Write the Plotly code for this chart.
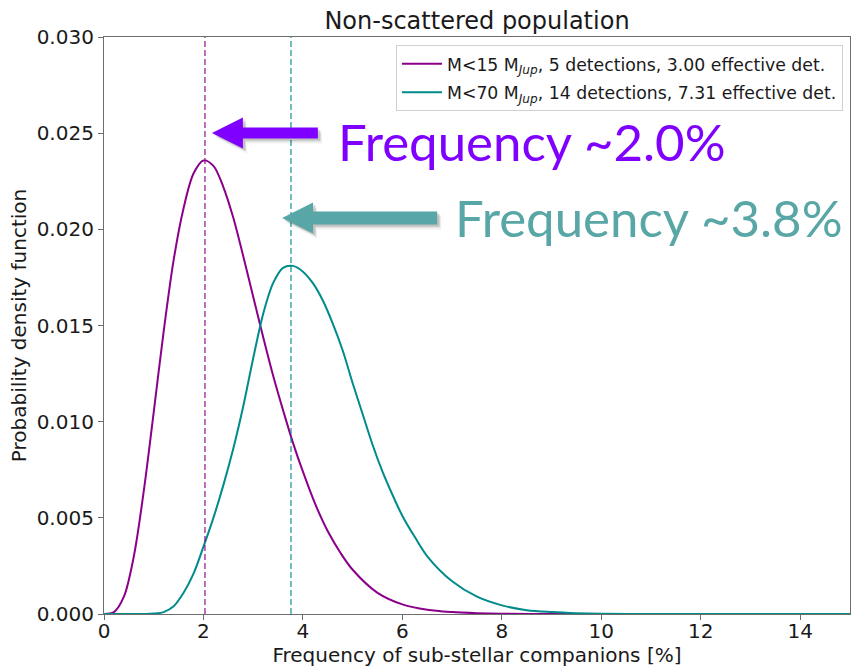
import plotly.graph_objects as go

# Axis limits and tick positions
x_range = [0, 15]
y_range = [0.0, 0.030]
x_ticks = [0, 2, 4, 6, 8, 10, 12, 14]
y_ticks = [0.000, 0.005, 0.010, 0.015, 0.020, 0.025, 0.030]

# Posterior PDF, planetary-mass companions (M < 15 MJup)
freq_low = [0, 0.2, 0.4, 0.6, 0.8, 1.0, 1.2, 1.4, 1.6, 1.8, 2.0, 2.2, 2.4, 2.6,
            2.8, 3.0, 3.2, 3.4, 3.6, 3.8, 4.0, 4.25, 4.5, 4.75, 5.0, 5.5, 6.0,
            6.5, 7.0, 7.5, 8.0, 9.0, 10.0, 12.0, 15.0]
pdf_low = [0.0, 0.0001, 0.0009, 0.0030, 0.0064, 0.0105, 0.0147, 0.0184,
           0.0211, 0.0229, 0.02358, 0.0233, 0.0222, 0.0206, 0.0186, 0.0165,
           0.0144, 0.0124, 0.0106, 0.0089, 0.0074, 0.0057, 0.0043, 0.0032,
           0.0023, 0.0011, 0.0005, 0.00022, 0.0001, 0.00004, 0.00001, 0.0,
           0.0, 0.0, 0.0]

# Posterior PDF, all sub-stellar companions (M < 70 MJup)
freq_high = [0, 0.8, 1.0, 1.2, 1.4, 1.6, 1.8, 2.0, 2.2, 2.4, 2.6, 2.8, 3.0,
             3.2, 3.4, 3.6, 3.8, 4.0, 4.2, 4.4, 4.6, 4.8, 5.0, 5.2, 5.4, 5.6,
             5.8, 6.0, 6.25, 6.5, 7.0, 7.5, 8.0, 8.5, 9.0, 9.5, 10.0, 11.0,
             12.0, 15.0]
pdf_high = [0.0, 0.0, 0.00002, 0.0001, 0.0004, 0.0011, 0.0021, 0.0035, 0.0050,
            0.0067, 0.0086, 0.0108, 0.0133, 0.0156, 0.0172, 0.0180, 0.0181,
            0.0178, 0.0172, 0.0163, 0.0151, 0.0137, 0.0120, 0.0104, 0.0088,
            0.0074, 0.0062, 0.0051, 0.0040, 0.0030, 0.0017, 0.0009, 0.00045,
            0.0002, 0.0001, 0.00004, 0.00001, 0.0, 0.0, 0.0]

# Most probable frequencies (PDF maxima)
mode_low = 2.03
mode_high = 3.76

series_names = [
    "M&lt;15 M<sub><i>Jup</i></sub>, 5 detections, 3.00 effective det.",
    "M&lt;70 M<sub><i>Jup</i></sub>, 14 detections, 7.31 effective det.",
]
line_colors = ["#8B008B", "#008B8B"]
dash_colors = ["rgba(139,0,139,0.7)", "rgba(0,139,139,0.7)"]
callout_colors = ["#8000FF", "#58A6A6"]

# Figure geometry (pixels)
W, H = 851, 667
M_L, M_R, M_T, M_B = 104, 1, 37, 53
plot_w = W - M_L - M_R
plot_h = H - M_T - M_B
px_x = plot_w / (x_range[1] - x_range[0])
px_y = plot_h / (y_range[1] - y_range[0])

FONT = "DejaVu Sans"

fig = go.Figure()

for i, (xs, ys) in enumerate([(freq_low, pdf_low), (freq_high, pdf_high)]):
    fig.add_trace(go.Scatter(
        x=xs, y=ys, mode="lines", name=series_names[i], legendgroup=f"g{i}",
        line=dict(color=line_colors[i], width=2, shape="spline", smoothing=0.9),
    ))

for mode_x, col in [(mode_low, dash_colors[0]), (mode_high, dash_colors[1])]:
    fig.add_trace(go.Scatter(
        x=[mode_x, mode_x], y=y_range, mode="lines", showlegend=False,
        hoverinfo="skip",
        line=dict(color=col, width=1.6, dash="6px,3px"),
    ))


def arrow_path(tip_x, tip_y, tail_x, head_len, head_half, shaft_half, dx=0, dy=0):
    """Left-pointing block arrow; sizes in pixels, anchor in data units."""
    ox = dx / px_x
    oy = -dy / px_y
    hx = tip_x + head_len / px_x
    pts = [
        (tip_x, tip_y),
        (hx, tip_y + head_half / px_y),
        (hx, tip_y + shaft_half / px_y),
        (tail_x, tip_y + shaft_half / px_y),
        (tail_x, tip_y - shaft_half / px_y),
        (hx, tip_y - shaft_half / px_y),
        (hx, tip_y - head_half / px_y),
    ]
    return "M " + " L ".join(f"{x + ox:.5f},{y + oy:.6f}" for x, y in pts) + " Z"


callouts = [
    # tip x, tip y, tail x, text x, text y, shaft half-thickness, mode
    (mode_low + 0.14, 0.02501, 4.30, 4.67, 0.02457, 5.5, mode_low),
    (mode_high - 0.18, 0.02059, 6.70, 7.02, 0.02062, 6.5, mode_high),
]

shapes = []
for (tx, ty, tail, _, _, sh, _), col in zip(callouts, callout_colors):
    for dxy, alpha in [((4, 5), 0.06), ((3, 3), 0.10), ((2, 2), 0.10)]:
        shapes.append(dict(
            type="path", xref="x", yref="y", layer="above",
            path=arrow_path(tx, ty, tail, 31, 15.5, sh, *dxy),
            fillcolor=f"rgba(0,0,0,{alpha})", line=dict(width=0),
        ))
    shapes.append(dict(
        type="path", xref="x", yref="y", layer="above",
        path=arrow_path(tx, ty, tail, 31, 15.5, sh),
        fillcolor=col, line=dict(width=0),
    ))

annotations = []
for (_, _, _, lx, ly, _, mode_x), col in zip(callouts, callout_colors):
    annotations.append(dict(
        x=lx, y=ly, xref="x", yref="y", xanchor="left", yanchor="middle",
        text=f"Frequency ~{mode_x:.1f}%", showarrow=False,
        font=dict(family="Lato", size=51, color=col),
    ))

axis_common = dict(
    showgrid=False, zeroline=False, showline=True, linecolor="#6e6e6e",
    linewidth=1.2, mirror=True, ticks="outside", ticklen=5, tickwidth=1.2,
    tickcolor="#6e6e6e", tickfont=dict(family=FONT, size=20, color="#1a1a1a"),
)

fig.update_layout(
    width=W, height=H,
    margin=dict(l=M_L, r=M_R, t=M_T, b=M_B),
    paper_bgcolor="white", plot_bgcolor="white",
    title=dict(
        text="Non-scattered population", x=0.5, xref="paper", xanchor="center",
        y=1, yref="paper", yanchor="bottom", pad=dict(b=8),
        font=dict(family=FONT, size=24, color="#1a1a1a"),
    ),
    xaxis=dict(
        range=x_range, tickvals=x_ticks, ticklabelstandoff=-6,
        title=dict(text="Frequency of sub-stellar companions [%]", standoff=6,
                   font=dict(family=FONT, size=20, color="#1a1a1a")),
        **axis_common,
    ),
    yaxis=dict(
        range=y_range, tickvals=y_ticks, tickformat=".3f",
        title=dict(text="Probability density function", standoff=4,
                   font=dict(family=FONT, size=20, color="#1a1a1a")),
        **axis_common,
    ),
    legend=dict(
        x=0.9906, y=0.986, xanchor="right", yanchor="top",
        bgcolor="rgba(255,255,255,0.8)", bordercolor="#d0d0d0", borderwidth=1,
        tracegroupgap=3, itemwidth=40,
        font=dict(family=FONT, size=17.3, color="#1a1a1a"),
    ),
    shapes=shapes,
    annotations=annotations,
    showlegend=True,
)

fig.write_html("out.html")
